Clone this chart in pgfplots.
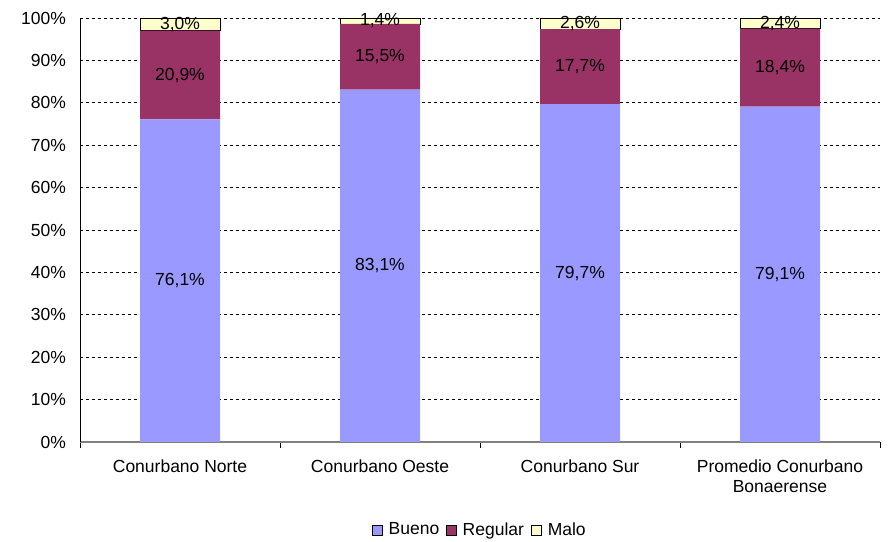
\documentclass[border=0pt]{standalone}
\usepackage{pgfplots}
\pgfplotsset{compat=1.18}
\usepackage{fontspec}
\setmainfont{Liberation Sans}
\definecolor{bueno}{HTML}{9999FF}
\definecolor{regular}{HTML}{993366}
\definecolor{malo}{HTML}{FFFFCC}
\begin{document}
\fontsize{17}{20}\selectfont
\begin{tikzpicture}[font=\fontsize{17.5}{20}\selectfont]
\begin{axis}[
  scale only axis, width=800pt, height=424pt,
  ybar stacked, bar width=80pt,
  xmin=-0.5, xmax=3.5, ymin=0, ymax=100,
  axis x line*=bottom, axis y line*=left,
  x axis line style={draw=gray, line width=1.2pt},
  y axis line style={draw=black, line width=0.8pt},
  xtick={0,1,2,3},
  xticklabels={Conurbano Norte, Conurbano Oeste, Conurbano Sur, {Promedio Conurbano\\Bonaerense}},
  xticklabel style={align=center, yshift=-8pt},
  major x tick style={draw=none},
  minor xtick={-0.5,0.5,1.5,2.5,3.5},
  minor x tick style={draw=black, line width=0.8pt},
  tick align=outside, minor tick length=6pt,
  ytick={0,10,...,100},
  major y tick style={draw=none},
  yticklabel={\pgfmathprintnumber{\tick}\%},
  yticklabel style={xshift=-4pt},
  /pgf/number format/assume math mode=true,
  ymajorgrids, major grid style={draw=black, line width=0.6pt, dash pattern=on 3pt off 3pt},
  point meta=rawy,
  nodes near coords={\pgfmathprintnumber[fixed, fixed zerofill, precision=1, use comma]{\pgfplotspointmeta}\%},
  every node near coord/.append style={anchor=center, black},
  legend columns=-1,
  legend style={draw=none, at={(0.5,-0.2075)}, anchor=center,
    /tikz/every odd column/.append style={column sep=4pt},
    /tikz/every even column/.append style={column sep=5pt}},
  legend image code/.code={\draw[#1] (0pt,-5pt) rectangle (10pt,5pt);},
  clip=false,
]
\addplot[fill=bueno, draw=none] coordinates {(0,76.1) (1,83.1) (2,79.7) (3,79.1)};
\addplot[fill=regular, draw=none] coordinates {(0,20.9) (1,15.5) (2,17.7) (3,18.4)};
\addplot[fill=malo, draw=black, line width=0.8pt] coordinates {(0,3.0) (1,1.4) (2,2.6) (3,2.4)};
\legend{Bueno, Regular, Malo}
\end{axis}
\path[use as bounding box] (-80pt,-98pt) rectangle (808pt,442pt);
\end{tikzpicture}
\end{document}
